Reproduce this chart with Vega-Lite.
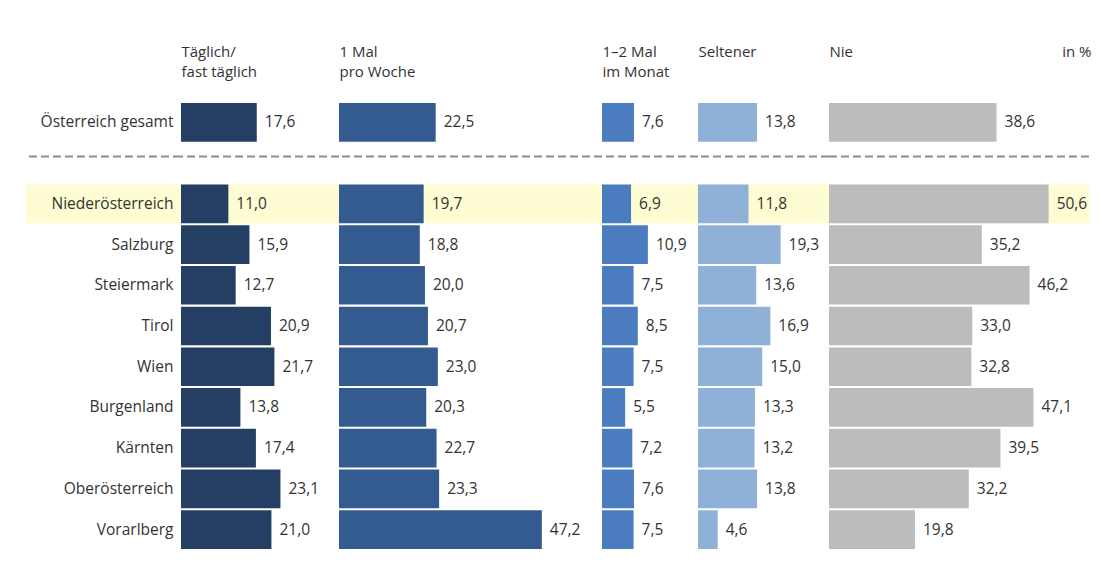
{
  "$schema": "https://vega.github.io/schema/vega-lite/v6.json",
  "padding": {"left": 25, "top": 44, "right": 12, "bottom": 28},
  "background": "white",
  "bounds": "flush",
  "config": {
    "view": {"stroke": null},
    "font": "Open Sans",
    "locale": {"number": {"decimal": ",", "thousands": ".", "grouping": [3], "currency": ["", " €"]}},
    "axis": {"labelFont": "Open Sans", "titleFont": "Open Sans"}
  },
  "datasets": {
    "umfrage": [
      {"region": "Österreich gesamt", "taeglich": 17.6, "woche": 22.5, "monat": 7.6, "seltener": 13.8, "nie": 38.6},
      {"region": "Niederösterreich", "taeglich": 11.0, "woche": 19.7, "monat": 6.9, "seltener": 11.8, "nie": 50.6},
      {"region": "Salzburg", "taeglich": 15.9, "woche": 18.8, "monat": 10.9, "seltener": 19.3, "nie": 35.2},
      {"region": "Steiermark", "taeglich": 12.7, "woche": 20.0, "monat": 7.5, "seltener": 13.6, "nie": 46.2},
      {"region": "Tirol", "taeglich": 20.9, "woche": 20.7, "monat": 8.5, "seltener": 16.9, "nie": 33.0},
      {"region": "Wien", "taeglich": 21.7, "woche": 23.0, "monat": 7.5, "seltener": 15.0, "nie": 32.8},
      {"region": "Burgenland", "taeglich": 13.8, "woche": 20.3, "monat": 5.5, "seltener": 13.3, "nie": 47.1},
      {"region": "Kärnten", "taeglich": 17.4, "woche": 22.7, "monat": 7.2, "seltener": 13.2, "nie": 39.5},
      {"region": "Oberösterreich", "taeglich": 23.1, "woche": 23.3, "monat": 7.6, "seltener": 13.8, "nie": 32.2},
      {"region": "Vorarlberg", "taeglich": 21.0, "woche": 47.2, "monat": 7.5, "seltener": 4.6, "nie": 19.8}
    ],
    "one": [{}]
  },
  "spacing": 0,
  "resolve": {"scale": {"x": "independent"}},
  "hconcat": [
    {
      "width": 155, "height": 446,
      "layer": [
        {
          "data": {"name": "one"},
          "mark": {"type": "rect", "color": "#fdfcd2"},
          "encoding": {
            "y": {"datum": "Niederösterreich", "type": "nominal",
              "scale": {"domain": ["Österreich gesamt", "sep", "Niederösterreich", "Salzburg", "Steiermark", "Tirol", "Wien", "Burgenland", "Kärnten", "Oberösterreich", "Vorarlberg"], "paddingInner": 0.05, "paddingOuter": 0},
              "axis": {"orient": "right", "title": null, "ticks": false, "domain": false, "grid": false, "labelAlign": "right", "labelPadding": -8, "labelFontSize": 15.5, "labelColor": "#333333", "labelLimit": 200,
                "labelExpr": "datum.value == 'sep' ? '' : datum.value"}
            }
          }
        },
        {
          "data": {"name": "one"},
          "mark": {"type": "rule", "color": "#8c8c8c", "strokeWidth": 2, "strokeDash": [8, 4]},
          "encoding": {"y": {"datum": "sep", "type": "nominal", "bandPosition": 0.33}}
        }
      ]
    },
    {
      "width": 158, "height": 446,
      "layer": [
        {
          "data": {"name": "one"},
          "mark": {"type": "rect", "color": "#fdfcd2"},
          "encoding": {"y": {"datum": "Niederösterreich", "type": "nominal", "axis": null,
            "scale": {"domain": ["Österreich gesamt", "sep", "Niederösterreich", "Salzburg", "Steiermark", "Tirol", "Wien", "Burgenland", "Kärnten", "Oberösterreich", "Vorarlberg"], "paddingInner": 0.05, "paddingOuter": 0}}}
        },
        {
          "data": {"name": "one"},
          "mark": {"type": "rule", "color": "#8c8c8c", "strokeWidth": 2, "strokeDash": [8, 4]},
          "encoding": {"y": {"datum": "sep", "type": "nominal", "bandPosition": 0.33, "axis": null}}
        },
        {
          "data": {"name": "umfrage"},
          "mark": {"type": "bar", "color": "#243f63"},
          "encoding": {
            "y": {"field": "region", "type": "nominal", "axis": null},
            "x": {"field": "taeglich", "type": "quantitative", "scale": {"domain": [0, 36.7], "nice": false},
              "axis": {"orient": "top", "labels": false, "ticks": false, "domain": false, "grid": false,
                "title": ["Täglich/", "fast täglich"], "titleAnchor": "start", "titleAlign": "left", "titleBaseline": "top", "titleX": 0, "titleY": -59,
                "titleFontSize": 15, "titleFontWeight": "normal", "titleLineHeight": 20, "titleColor": "#333333"}}
          }
        },
        {
          "data": {"name": "umfrage"},
          "mark": {"type": "text", "align": "left", "baseline": "middle", "dx": 8, "fontSize": 15.5, "color": "#333333"},
          "encoding": {
            "y": {"field": "region", "type": "nominal", "axis": null},
            "x": {"field": "taeglich", "type": "quantitative"},
            "text": {"field": "taeglich", "type": "quantitative", "format": ".1f"}
          }
        }
      ]
    },
    {
      "width": 263, "height": 446,
      "layer": [
        {
          "data": {"name": "one"},
          "mark": {"type": "rect", "color": "#fdfcd2"},
          "encoding": {"y": {"datum": "Niederösterreich", "type": "nominal", "axis": null,
            "scale": {"domain": ["Österreich gesamt", "sep", "Niederösterreich", "Salzburg", "Steiermark", "Tirol", "Wien", "Burgenland", "Kärnten", "Oberösterreich", "Vorarlberg"], "paddingInner": 0.05, "paddingOuter": 0}}}
        },
        {
          "data": {"name": "one"},
          "mark": {"type": "rule", "color": "#8c8c8c", "strokeWidth": 2, "strokeDash": [8, 4]},
          "encoding": {"y": {"datum": "sep", "type": "nominal", "bandPosition": 0.33, "axis": null}}
        },
        {
          "data": {"name": "umfrage"},
          "mark": {"type": "bar", "color": "#345b8f"},
          "encoding": {
            "y": {"field": "region", "type": "nominal", "axis": null},
            "x": {"field": "woche", "type": "quantitative", "scale": {"domain": [0, 61.2], "nice": false},
              "axis": {"orient": "top", "labels": false, "ticks": false, "domain": false, "grid": false,
                "title": ["1 Mal", "pro Woche"], "titleAnchor": "start", "titleAlign": "left", "titleBaseline": "top", "titleX": 0, "titleY": -59,
                "titleFontSize": 15, "titleFontWeight": "normal", "titleLineHeight": 20, "titleColor": "#333333"}}
          }
        },
        {
          "data": {"name": "umfrage"},
          "mark": {"type": "text", "align": "left", "baseline": "middle", "dx": 8, "fontSize": 15.5, "color": "#333333"},
          "encoding": {
            "y": {"field": "region", "type": "nominal", "axis": null},
            "x": {"field": "woche", "type": "quantitative"},
            "text": {"field": "woche", "type": "quantitative", "format": ".1f"}
          }
        }
      ]
    },
    {
      "width": 96, "height": 446,
      "layer": [
        {
          "data": {"name": "one"},
          "mark": {"type": "rect", "color": "#fdfcd2"},
          "encoding": {"y": {"datum": "Niederösterreich", "type": "nominal", "axis": null,
            "scale": {"domain": ["Österreich gesamt", "sep", "Niederösterreich", "Salzburg", "Steiermark", "Tirol", "Wien", "Burgenland", "Kärnten", "Oberösterreich", "Vorarlberg"], "paddingInner": 0.05, "paddingOuter": 0}}}
        },
        {
          "data": {"name": "one"},
          "mark": {"type": "rule", "color": "#8c8c8c", "strokeWidth": 2, "strokeDash": [8, 4]},
          "encoding": {"y": {"datum": "sep", "type": "nominal", "bandPosition": 0.33, "axis": null}}
        },
        {
          "data": {"name": "umfrage"},
          "mark": {"type": "bar", "color": "#4a7cbf"},
          "encoding": {
            "y": {"field": "region", "type": "nominal", "axis": null},
            "x": {"field": "monat", "type": "quantitative", "scale": {"domain": [0, 22.8], "nice": false},
              "axis": {"orient": "top", "labels": false, "ticks": false, "domain": false, "grid": false,
                "title": ["1–2 Mal", "im Monat"], "titleAnchor": "start", "titleAlign": "left", "titleBaseline": "top", "titleX": 0, "titleY": -59,
                "titleFontSize": 15, "titleFontWeight": "normal", "titleLineHeight": 20, "titleColor": "#333333"}}
          }
        },
        {
          "data": {"name": "umfrage"},
          "mark": {"type": "text", "align": "left", "baseline": "middle", "dx": 8, "fontSize": 15.5, "color": "#333333"},
          "encoding": {
            "y": {"field": "region", "type": "nominal", "axis": null},
            "x": {"field": "monat", "type": "quantitative"},
            "text": {"field": "monat", "type": "quantitative", "format": ".1f"}
          }
        }
      ]
    },
    {
      "width": 131, "height": 446,
      "layer": [
        {
          "data": {"name": "one"},
          "mark": {"type": "rect", "color": "#fdfcd2"},
          "encoding": {"y": {"datum": "Niederösterreich", "type": "nominal", "axis": null,
            "scale": {"domain": ["Österreich gesamt", "sep", "Niederösterreich", "Salzburg", "Steiermark", "Tirol", "Wien", "Burgenland", "Kärnten", "Oberösterreich", "Vorarlberg"], "paddingInner": 0.05, "paddingOuter": 0}}}
        },
        {
          "data": {"name": "one"},
          "mark": {"type": "rule", "color": "#8c8c8c", "strokeWidth": 2, "strokeDash": [8, 4]},
          "encoding": {"y": {"datum": "sep", "type": "nominal", "bandPosition": 0.33, "axis": null}}
        },
        {
          "data": {"name": "umfrage"},
          "mark": {"type": "bar", "color": "#8fb0d7"},
          "encoding": {
            "y": {"field": "region", "type": "nominal", "axis": null},
            "x": {"field": "seltener", "type": "quantitative", "scale": {"domain": [0, 30.6], "nice": false},
              "axis": {"orient": "top", "labels": false, "ticks": false, "domain": false, "grid": false,
                "title": ["Seltener"], "titleAnchor": "start", "titleAlign": "left", "titleBaseline": "top", "titleX": 0, "titleY": -59,
                "titleFontSize": 15, "titleFontWeight": "normal", "titleLineHeight": 20, "titleColor": "#333333"}}
          }
        },
        {
          "data": {"name": "umfrage"},
          "mark": {"type": "text", "align": "left", "baseline": "middle", "dx": 8, "fontSize": 15.5, "color": "#333333"},
          "encoding": {
            "y": {"field": "region", "type": "nominal", "axis": null},
            "x": {"field": "seltener", "type": "quantitative"},
            "text": {"field": "seltener", "type": "quantitative", "format": ".1f"}
          }
        }
      ]
    },
    {
      "width": 260, "height": 446,
      "layer": [
        {
          "data": {"name": "one"},
          "mark": {"type": "rect", "color": "#fdfcd2"},
          "encoding": {"y": {"datum": "Niederösterreich", "type": "nominal",
            "scale": {"domain": ["Österreich gesamt", "sep", "Niederösterreich", "Salzburg", "Steiermark", "Tirol", "Wien", "Burgenland", "Kärnten", "Oberösterreich", "Vorarlberg"], "paddingInner": 0.05, "paddingOuter": 0},
            "axis": {"orient": "right", "labels": false, "ticks": false, "domain": false, "grid": false,
              "title": "in %", "titleAngle": 0, "titleAlign": "right", "titleBaseline": "top", "titleX": 2, "titleY": -59,
              "titleFontSize": 15, "titleFontWeight": "normal", "titleColor": "#333333"}}}
        },
        {
          "data": {"name": "one"},
          "mark": {"type": "rule", "color": "#8c8c8c", "strokeWidth": 2, "strokeDash": [8, 4]},
          "encoding": {"y": {"datum": "sep", "type": "nominal", "bandPosition": 0.33}}
        },
        {
          "data": {"name": "umfrage"},
          "mark": {"type": "bar", "color": "#bcbcbc"},
          "encoding": {
            "y": {"field": "region", "type": "nominal"},
            "x": {"field": "nie", "type": "quantitative", "scale": {"domain": [0, 59.9], "nice": false},
              "axis": {"orient": "top", "labels": false, "ticks": false, "domain": false, "grid": false,
                "title": ["Nie"], "titleAnchor": "start", "titleAlign": "left", "titleBaseline": "top", "titleX": 0, "titleY": -59,
                "titleFontSize": 15, "titleFontWeight": "normal", "titleLineHeight": 20, "titleColor": "#333333"}}
          }
        },
        {
          "data": {"name": "umfrage"},
          "mark": {"type": "text", "align": "left", "baseline": "middle", "dx": 8, "fontSize": 15.5, "color": "#333333"},
          "encoding": {
            "y": {"field": "region", "type": "nominal"},
            "x": {"field": "nie", "type": "quantitative"},
            "text": {"field": "nie", "type": "quantitative", "format": ".1f"}
          }
        }
      ]
    }
  ]
}
